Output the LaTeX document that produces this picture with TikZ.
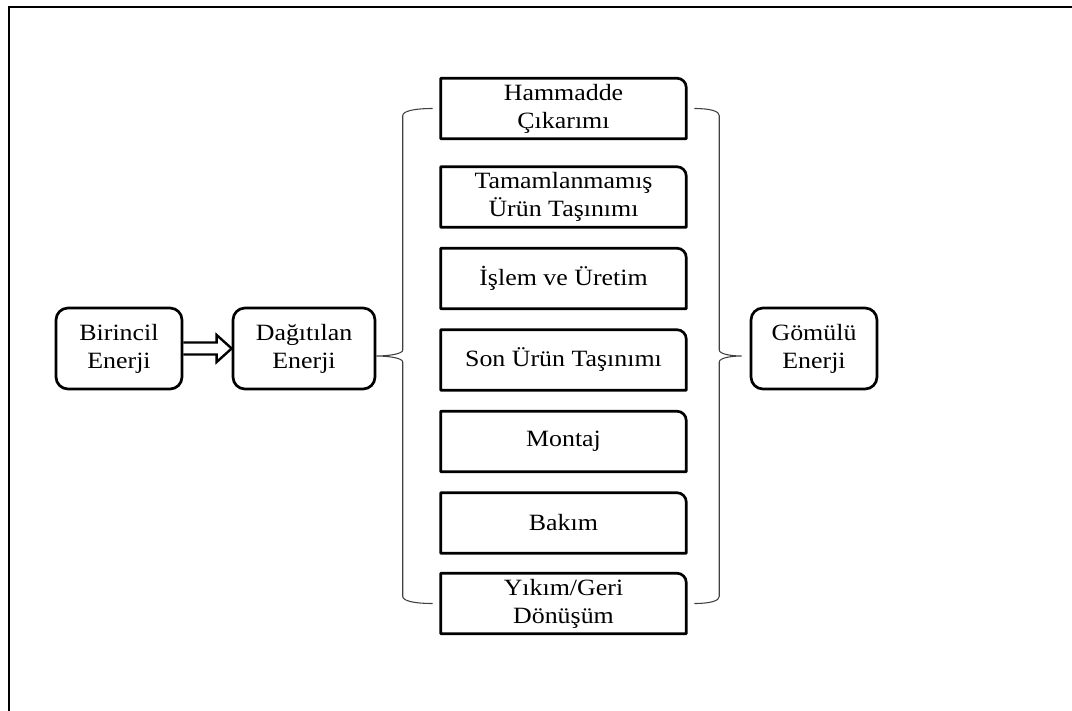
\documentclass[tikz,border=0pt]{standalone}
\usepackage{fontspec}
\setmainfont{Liberation Serif}[FakeStretch=1.11]
\usetikzlibrary{calc}
\begin{document}
\begin{tikzpicture}[x=0.75pt,y=-0.75pt,
  txt/.style={font=\fontsize{17.5}{21}\selectfont, align=center, inner sep=0pt},
  roundbox/.style={txt, draw, line width=2pt, rounded corners=9pt, minimum height=60.75pt},
  stage/.style={txt, minimum width=183.75pt, minimum height=45pt},
  stageline/.style={line width=2pt, line join=round},
  arrowline/.style={line width=1.8pt, line join=miter},
  bracel/.style={line width=0.8pt, draw=black!75},
  framel/.style={line width=1.5pt, line join=miter}]
\useasboundingbox (0,0) rectangle (1072,711);

% outer frame (top and left edges)
\draw[framel] (9,711) -- (9,7) -- (1072,7);

% energy boxes
\node[roundbox, minimum width=94.5pt]  (bir) at (119,348.5) {Birincil\\Enerji};
\node[roundbox, minimum width=106.5pt] (dag) at (304,348.5) {Dağıtılan\\Enerji};
\node[roundbox, minimum width=94.5pt]  (gom) at (814,348.5) {Gömülü\\Enerji};

% life-cycle stages
\node[stage] (s1) at (563.5,108.5) {Hammadde\\Çıkarımı};
\node[stage] (s2) at (563.5,197)   {Tamamlanmamış\\Ürün Taşınımı};
\node[stage] (s3) at (563.5,278.5) {İşlem ve Üretim};
\node[stage] (s4) at (563.5,360)   {Son Ürün Taşınımı};
\node[stage] (s5) at (563.5,441.5) {Montaj};
\node[stage] (s6) at (563.5,523)   {Bakım};
\node[stage] (s7) at (563.5,603.5) {Yıkım/Geri\\Dönüşüm};

\foreach \i in {1,...,7}
  \draw[stageline] (s\i.south west) -- (s\i.north west)
    -- ([xshift=-7pt]s\i.north east) arc[start angle=90, end angle=0, radius=7pt]
    -- (s\i.south east) -- cycle;

% hollow block arrow
\draw[arrowline] ($(bir.east)+(0,-6)$) -- ($(dag.west)+(-15,-6)$)
  -- ($(dag.west)+(-15,-13.5)$) -- (dag.west) -- ($(dag.west)+(-15,13.5)$)
  -- ($(dag.west)+(-15,6)$) -- ($(bir.east)+(0,6)$);

% left brace
\coordinate (LT) at ($(s1.west)+(-8,0)$);
\coordinate (LB) at ($(s7.west)+(-8,0)$);
\coordinate (LM) at ($(LT)!0.5!(LB)$);
\coordinate (LX) at ($(LT)+(-30,0)$);
\draw[bracel] (LT) .. controls +(-20,0) and +(0,-4) .. ($(LX)+(0,7)$)
  -- ($(LX |- LM)+(0,-6)$) .. controls +(0,4) and +(12,0) .. (dag.east |- LM)
  .. controls +(12,0) and +(0,-4) .. ($(LX |- LM)+(0,6)$)
  -- ($(LX |- LB)+(0,-7)$) .. controls +(0,4) and +(-20,0) .. (LB);

% right brace
\coordinate (RT) at ($(s1.east)+(8,0)$);
\coordinate (RB) at ($(s7.east)+(8,0)$);
\coordinate (RM) at ($(RT)!0.5!(RB)$);
\coordinate (RX) at ($(RT)+(25,0)$);
\coordinate (RP) at ($(gom.west |- RM)+(-8,0)$);
\draw[bracel] (RT) .. controls +(17,0) and +(0,-4) .. ($(RX)+(0,7)$)
  -- ($(RX |- RM)+(0,-6)$) .. controls +(0,4) and +(-11,0) .. (RP)
  .. controls +(-11,0) and +(0,-4) .. ($(RX |- RM)+(0,6)$)
  -- ($(RX |- RB)+(0,-7)$) .. controls +(0,4) and +(17,0) .. (RB);
\end{tikzpicture}
\end{document}
